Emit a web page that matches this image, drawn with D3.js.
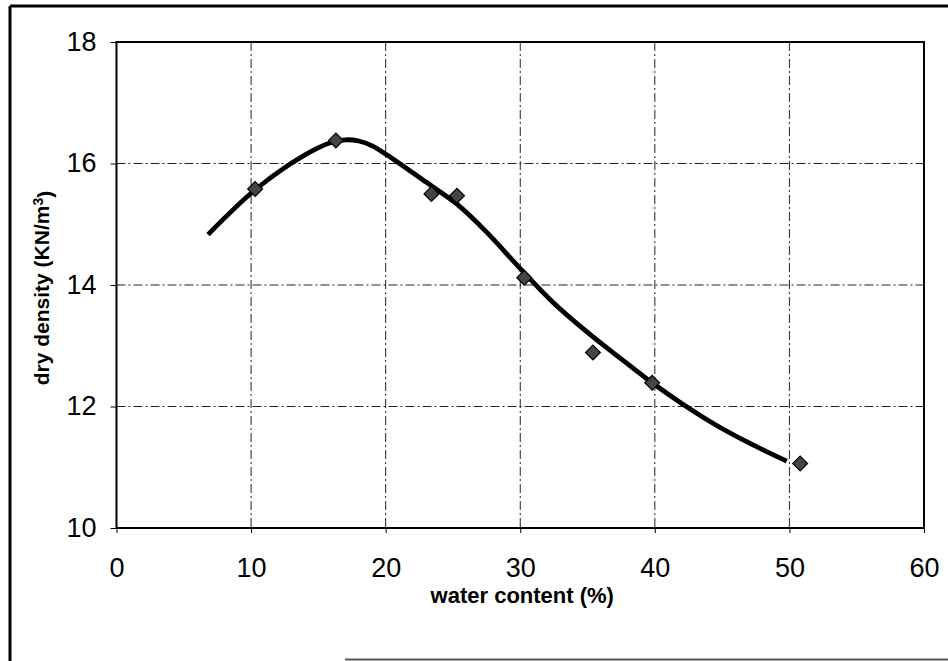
<!DOCTYPE html>
<html>
<head>
<meta charset="utf-8">
<script src="https://cdn.jsdelivr.net/npm/d3@7/dist/d3.min.js"></script>
<style>
body { margin: 0; background: #fff; }
text { font-family: "Liberation Sans", Arial, sans-serif; fill: #000; }
</style>
</head>
<body>
<div id="chart"></div>
<script>

// tick values of both axes
const xTicks = [0, 10, 20, 30, 40, 50, 60];
const yTicks = [10, 12, 14, 16, 18];

// measured points (diamonds)
const waterContent = [10.3, 16.3, 23.4, 25.3, 30.3, 35.4, 39.8, 50.8];
const dryDensity = [15.58, 16.38, 15.50, 15.47, 14.12, 12.89, 12.39, 11.06];

// fitted curve
const fitWater = [6.8, 10, 12.9, 14.9, 16, 17, 18, 19, 20.1, 22.7, 25.3, 27.5, 30, 32.5, 35, 37.4, 39.8, 42, 44.5, 47, 49.8];
const fitDensity = [14.83, 15.51, 15.99, 16.25, 16.35, 16.39, 16.37, 16.29, 16.14, 15.74, 15.33, 14.87, 14.27, 13.70, 13.22, 12.80, 12.39, 12.05, 11.70, 11.40, 11.10];

const W = 948, H = 661;
const margin = {top: 42, right: 24, bottom: 133, left: 116.5},
  width = W - margin.left - margin.right,
  height = H - margin.top - margin.bottom;

const root = d3.select("#chart")
  .append("svg")
  .attr("width", W)
  .attr("height", H);

// outer frame (left + top heavy, bottom partial)
root.append("line").attr("x1", 10).attr("y1", 6).attr("x2", 10).attr("y2", H)
  .attr("stroke", "#000").attr("stroke-width", 3);
root.append("line").attr("x1", 10).attr("y1", 6).attr("x2", W).attr("y2", 6)
  .attr("stroke", "#000").attr("stroke-width", 3);
root.append("line").attr("x1", 345).attr("y1", 659.5).attr("x2", W).attr("y2", 659.5)
  .attr("stroke", "#555").attr("stroke-width", 2);

const svg = root.append("g")
  .attr("transform", "translate(" + margin.left + "," + margin.top + ")");

const x = d3.scaleLinear().domain([0, 60]).range([0, width]);
const y = d3.scaleLinear().domain([10, 18]).range([height, 0]);

// grid lines (dash-dot)
svg.append("g")
  .selectAll("line")
  .data(xTicks.slice(1, -1))
  .enter().append("line")
    .attr("x1", d => x(d)).attr("x2", d => x(d))
    .attr("y1", 0).attr("y2", height)
    .attr("stroke", "#222").attr("stroke-width", 1)
    .attr("stroke-dasharray", "9,3,2,3");

svg.append("g")
  .selectAll("line")
  .data(yTicks.slice(1, -1))
  .enter().append("line")
    .attr("x1", 0).attr("x2", width)
    .attr("y1", d => y(d)).attr("y2", d => y(d))
    .attr("stroke", "#222").attr("stroke-width", 1)
    .attr("stroke-dasharray", "9,3,2,3");

// X axis
const xAxis = svg.append("g")
  .attr("transform", "translate(0," + height + ")")
  .call(d3.axisBottom(x).tickValues(xTicks).tickSize(5).tickPadding(22));
xAxis.select(".domain").remove();
xAxis.selectAll("text").style("font-size", "27px").attr("dy", "0.8em");

// Y axis
const yAxis = svg.append("g")
  .call(d3.axisLeft(y).tickValues(yTicks).tickSize(6).tickPadding(14));
yAxis.select(".domain").remove();
yAxis.selectAll("text").style("font-size", "27px").attr("dy", "0.3em");

// plot frame
svg.append("rect")
  .attr("width", width).attr("height", height)
  .attr("fill", "none").attr("stroke", "#000").attr("stroke-width", 2);

// fitted curve
const fit = fitWater.map((w, i) => ({x: w, y: fitDensity[i]}));
svg.append("path")
  .datum(fit)
  .attr("fill", "none")
  .attr("stroke", "#000")
  .attr("stroke-width", 4.8)
  .attr("stroke-linecap", "butt")
  .attr("d", d3.line().x(d => x(d.x)).y(d => y(d.y)).curve(d3.curveCatmullRom));

// measured points
const pts = waterContent.map((w, i) => ({x: w, y: dryDensity[i]}));
svg.selectAll(".pt")
  .data(pts)
  .enter().append("path")
    .attr("class", "pt")
    .attr("d", d3.symbol().type(d3.symbolSquare).size(110))
    .attr("transform", d => "translate(" + x(d.x) + "," + y(d.y) + ") rotate(45)")
    .attr("fill", "#454545")
    .attr("stroke", "#000")
    .attr("stroke-width", 1.2);

// axis titles
svg.append("text")
  .attr("x", width / 2 + 2)
  .attr("y", 603 - margin.top)
  .attr("text-anchor", "middle")
  .style("font-size", "22px")
  .style("font-weight", "bold")
  .text("water content (%)");

const yt = svg.append("text")
  .attr("transform", "translate(" + (49 - margin.left) + "," + (height / 2 + 3) + ") rotate(-90)")
  .attr("text-anchor", "middle")
  .style("font-size", "21px")
  .style("font-weight", "bold");
yt.append("tspan").text("dry density (KN/m");
yt.append("tspan").attr("dy", "-0.45em").style("font-size", "14px").text("3");
yt.append("tspan").attr("dy", "0.45em").text(")");

</script>
</body>
</html>
